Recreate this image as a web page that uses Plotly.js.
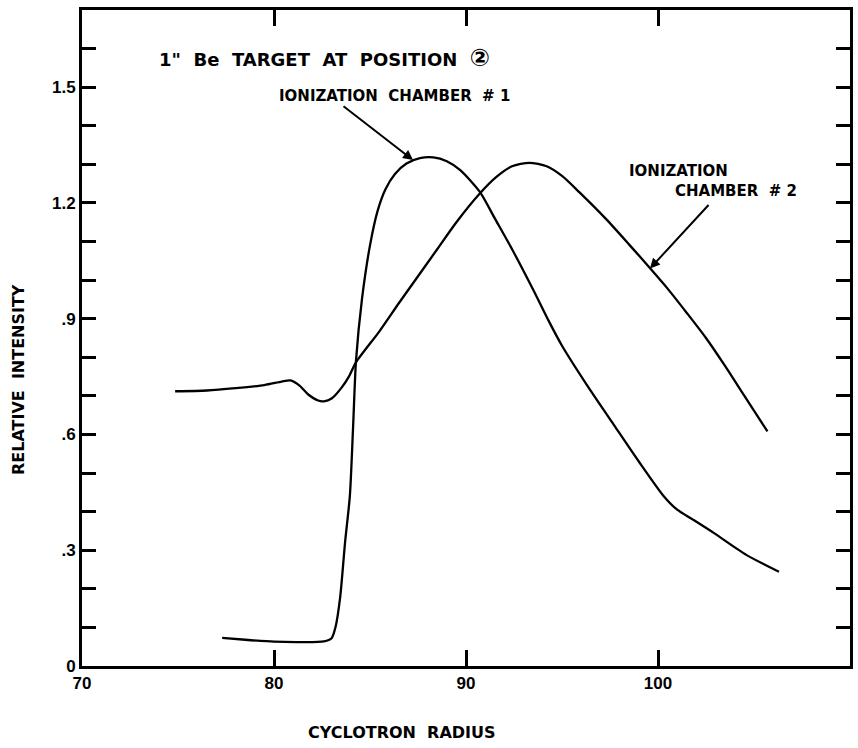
<!DOCTYPE html>
<html>
<head>
<meta charset="utf-8">
<script src="https://cdn.plot.ly/plotly-3.0.1.min.js"></script>
<style>html,body{margin:0;padding:0;background:#fff;}#chart{width:858px;height:748px;}</style>
</head>
<body>
<div id="chart"></div>
<script>
// Ionization chamber #1
const ch1X = [77.3, 78.5, 80.0, 81.5, 82.6, 83.0, 83.2, 83.45, 83.7, 83.95, 84.12, 84.27, 84.58, 85.0, 85.4, 85.8, 86.3, 86.9, 87.6, 88.3, 89.0, 89.7, 90.73, 91.5, 92.4, 93.5, 94.3, 95.0, 96.3, 97.7, 99.0, 100.3, 101.0, 101.8, 102.9, 104.6, 106.3];
const ch1Y = [0.073, 0.068, 0.063, 0.062, 0.064, 0.072, 0.10, 0.18, 0.32, 0.44, 0.62, 0.79, 0.95, 1.09, 1.18, 1.235, 1.275, 1.302, 1.316, 1.318, 1.308, 1.285, 1.228, 1.16, 1.08, 0.975, 0.895, 0.83, 0.728, 0.625, 0.53, 0.44, 0.405, 0.38, 0.345, 0.288, 0.244];
// Ionization chamber #2
const ch2X = [74.85, 76.5, 78.0, 79.5, 80.4, 80.85, 81.3, 81.8, 82.3, 82.6, 83.0, 83.5, 83.9, 84.27, 85.5, 86.5, 87.5, 88.5, 89.5, 90.73, 91.6, 92.4, 93.3, 94.2, 95.0, 95.9, 97.3, 98.5, 99.6, 100.5, 101.5, 102.5, 103.5, 104.5, 105.7];
const ch2Y = [0.712, 0.714, 0.72, 0.728, 0.737, 0.740, 0.728, 0.703, 0.688, 0.686, 0.693, 0.72, 0.75, 0.787, 0.868, 0.94, 1.01, 1.08, 1.15, 1.225, 1.268, 1.295, 1.304, 1.295, 1.27, 1.228, 1.158, 1.092, 1.03, 0.978, 0.915, 0.85, 0.777, 0.70, 0.608];

const xTickVals = [70, 80, 90, 100, 110];
const xTickText = ['70', '80', '90', '100', '110'];
const yTickVals = [0, 0.1, 0.2, 0.3, 0.4, 0.5, 0.6, 0.7, 0.8, 0.9, 1.0, 1.1, 1.2, 1.3, 1.4, 1.5, 1.6];
const yTickText = ['0', '', '', '.3', '', '', '.6', '', '', '.9', '', '', '1.2', '', '', '1.5', ''];

const TFONT = '"Liberation Sans", Arial, sans-serif';
const LFONT = '"DejaVu Sans", "Liberation Sans", sans-serif';
const NB = '\u00A0';

const traces = [
  {x: ch1X, y: ch1Y, mode: 'lines', line: {color: '#000', width: 2.3, shape: 'spline', smoothing: 0.7}, name: 'Ionization chamber #1'},
  {x: ch2X, y: ch2Y, mode: 'lines', line: {color: '#000', width: 2.3, shape: 'spline', smoothing: 0.7}, name: 'Ionization chamber #2'}
];

const layout = {
  width: 858, height: 748,
  margin: {l: 82, r: 8, t: 10, b: 82},
  paper_bgcolor: '#fff', plot_bgcolor: '#fff',
  showlegend: false,
  font: {family: TFONT, color: '#000'},
  xaxis: {
    range: [70, 110], fixedrange: true,
    tickvals: xTickVals, ticktext: xTickText,
    ticks: 'inside', ticklen: 16, tickwidth: 3, tickcolor: '#000',
    showline: true, linewidth: 3, linecolor: '#000', mirror: 'ticks',
    showgrid: false, zeroline: false,
    tickfont: {size: 17, family: TFONT, weight: 'bold'}
  },
  yaxis: {
    range: [0, 1.7], fixedrange: true,
    tickvals: yTickVals, ticktext: yTickText,
    ticks: 'inside', ticklen: 14, tickwidth: 3, tickcolor: '#000',
    showline: true, linewidth: 3, linecolor: '#000', mirror: 'ticks',
    showgrid: false, zeroline: false,
    tickfont: {size: 17, family: TFONT, weight: 'bold'}
  },
  annotations: [
    {x: 0.4167, y: -0.102, xref: 'paper', yref: 'paper', xanchor: 'center', yanchor: 'middle', showarrow: false,
     text: 'CYCLOTRON' + NB + NB + 'RADIUS', font: {size: 16, family: LFONT, weight: 'bold'}},
    {x: -0.082, y: 0.436, xref: 'paper', yref: 'paper', xanchor: 'center', yanchor: 'middle', showarrow: false, textangle: -90,
     text: 'RELATIVE' + NB + NB + 'INTENSITY', font: {size: 16, family: LFONT, weight: 'bold'}},
    {x: 73.9, y: 1.576, xref: 'x', yref: 'y', xanchor: 'left', yanchor: 'middle', showarrow: false,
     text: '1"' + NB + NB + 'Be' + NB + NB + 'TARGET' + NB + NB + 'AT' + NB + NB + 'POSITION' + NB + NB + '<span style="font-size:24px">②</span>',
     font: {size: 18, family: LFONT, weight: 'bold'}},
    {x: 80.15, y: 1.477, xref: 'x', yref: 'y', xanchor: 'left', yanchor: 'middle', showarrow: false,
     text: 'IONIZATION' + NB + NB + 'CHAMBER' + NB + NB + '#' + NB + '1',
     font: {size: 15, family: LFONT, weight: 'bold'}},
    {x: 98.4, y: 1.283, xref: 'x', yref: 'y', xanchor: 'left', yanchor: 'middle', showarrow: false,
     text: 'IONIZATION', font: {size: 15, family: LFONT, weight: 'bold'}},
    {x: 100.8, y: 1.231, xref: 'x', yref: 'y', xanchor: 'left', yanchor: 'middle', showarrow: false,
     text: 'CHAMBER' + NB + NB + '#' + NB + '2', font: {size: 15, family: LFONT, weight: 'bold'}},
    {x: 87.24, y: 1.311, xref: 'x', yref: 'y', text: '', showarrow: true,
     ax: -71, ay: -55, arrowhead: 2, arrowsize: 1, arrowwidth: 2, arrowcolor: '#000'},
    {x: 99.58, y: 1.03, xref: 'x', yref: 'y', text: '', showarrow: true,
     ax: 60, ay: -65, arrowhead: 2, arrowsize: 1, arrowwidth: 2, arrowcolor: '#000'}
  ]
};

Plotly.newPlot('chart', traces, layout, {displayModeBar: false, staticPlot: true});
</script>
</body>
</html>
